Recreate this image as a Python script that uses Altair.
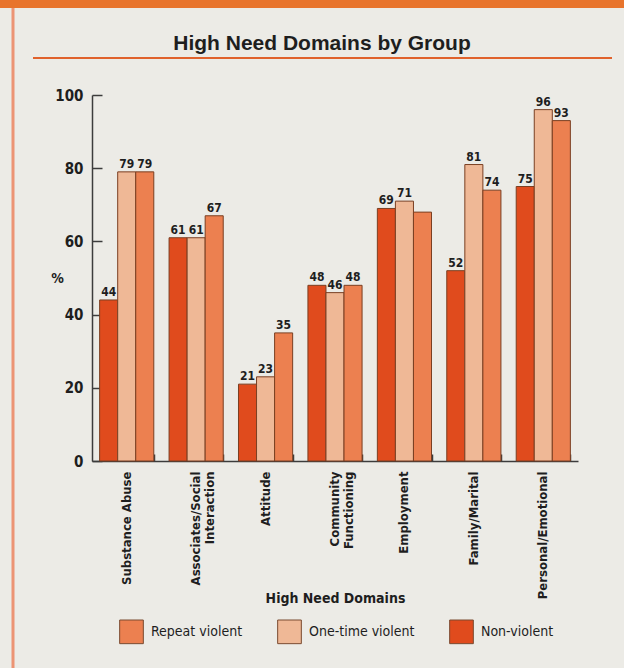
import altair as alt
import pandas as pd

chart_title = "High Need Domains by Group"
domains = ["Substance Abuse", "Associates/Social|Interaction", "Attitude",
           "Community|Functioning", "Employment", "Family/Marital", "Personal/Emotional"]
groups = ["Non-violent", "One-time violent", "Repeat violent"]
legend_order = ["Repeat violent", "One-time violent", "Non-violent"]
non_violent = [44, 61, 21, 48, 69, 52, 75]
one_time_violent = [79, 61, 23, 46, 71, 81, 96]
repeat_violent = [79, 67, 35, 48, 68, 74, 93]
repeat_label_shown = [True, True, True, True, False, True, True]
y_ticks = [0, 20, 40, 60, 80, 100]

colors = {"Repeat violent": "#ec8050", "One-time violent": "#efb896", "Non-violent": "#e04b1d"}

rows = []
for i, d in enumerate(domains):
    for g, vals in zip(groups, [non_violent, one_time_violent, repeat_violent]):
        v = vals[i]
        show = repeat_label_shown[i] if g == "Repeat violent" else True
        rows.append({"domain": d, "group": g, "value": v, "label": str(v) if show else ""})
df = pd.DataFrame(rows)

FONT = "Liberation Sans Narrow, DejaVu Sans Condensed, Arial Narrow, Liberation Sans, sans-serif"
INK = "#1e1e1e"

x_enc = alt.X("domain:N", sort=domains,
              scale=alt.Scale(paddingInner=0.22, paddingOuter=0.11),
              axis=alt.Axis(labelAngle=270, labelExpr="split(datum.label, '|')",
                            ticks=False, domainColor="#3c3c3c", domainWidth=1.5,
                            labelFont=FONT, labelFontSize=13, labelFontWeight="bold",
                            labelColor=INK, labelPadding=10, labelAlign="right",
                            labelBaseline="middle", labelLineHeight=14,
                            title="High Need Domains", titleFont=FONT, titleFontSize=14,
                            titleFontWeight="bold", titleColor=INK, titleY=137,
                            titleBaseline="middle"))
xo_enc = alt.XOffset("group:N", sort=groups, scale=alt.Scale(paddingInner=0, paddingOuter=0))
y_enc = alt.Y("value:Q", scale=alt.Scale(domain=[0, 100]),
              axis=alt.Axis(values=y_ticks, ticks=False, grid=False,
                            domainColor="#3c3c3c", domainWidth=1.5,
                            labelFont=FONT, labelFontSize=15, labelFontWeight="bold",
                            labelColor=INK, labelPadding=9,
                            title="%", titleAngle=0, titleX=-35, titleY=183,
                            titleFont=FONT, titleFontSize=14, titleFontWeight="bold",
                            titleColor=INK, titleAlign="center", titleBaseline="middle"))

color_enc = alt.Color("group:N",
                      scale=alt.Scale(domain=legend_order, range=[colors[g] for g in legend_order]),
                      legend=alt.Legend(orient="none", legendX=27, legendY=524,
                                        direction="horizontal", columns=3, title=None,
                                        symbolType="square", symbolSize=560,
                                        symbolStrokeColor="#7a4a30", symbolStrokeWidth=1,
                                        labelFont=FONT, labelFontSize=14, labelColor=INK,
                                        labelOffset=7, columnPadding=32, labelLimit=200))

base = alt.Chart(df)

bars = base.mark_bar(stroke="#7a3f22", strokeWidth=1).encode(
    x=x_enc, xOffset=xo_enc, y=y_enc, color=color_enc)

labels = base.mark_text(dy=-8, font=FONT, fontSize=12, fontWeight="bold", color=INK).encode(
    x=alt.X("domain:N", sort=domains, axis=None),
    xOffset=alt.XOffset("group:N", sort=groups),
    y=alt.Y("value:Q", axis=None), text="label:N")

# inward tick marks on both axes (axis decoration)
tick_layer = base.mark_bar(opacity=0).encode(
    x=alt.X("domain:N", sort=domains,
            axis=alt.Axis(orient="bottom", offset=-7, tickSize=7, tickBand="extent",
                          labels=False, domain=False, title=None, tickColor="#3c3c3c",
                          tickWidth=1.5)),
    xOffset=alt.XOffset("group:N", sort=groups),
    y=alt.Y("value:Q",
            axis=alt.Axis(orient="left", offset=-10, tickSize=10, values=y_ticks,
                          labels=False, domain=False, title=None, grid=False,
                          tickColor="#3c3c3c", tickWidth=1.5)))

deco = pd.DataFrame({"k": [0]})
top_strip = alt.Chart(deco).mark_rule(color="#e8742c", strokeWidth=8).encode(
    x=alt.value(-92), x2=alt.value(532), y=alt.value(-91), y2=alt.value(-91))
title_rule = alt.Chart(deco).mark_rule(color="#e0622c", strokeWidth=2).encode(
    x=alt.value(-59), x2=alt.value(520), y=alt.value(-37), y2=alt.value(-37))
left_border = alt.Chart(deco).mark_rule(color="#ec9474", strokeWidth=3).encode(
    x=alt.value(-79), x2=alt.value(-79), y=alt.value(-87), y2=alt.value(573))
title_text = alt.Chart(deco).mark_text(
    font="Liberation Sans", fontSize=21, fontWeight="bold", color=INK,
    align="center", baseline="alphabetic").encode(
    x=alt.value(230), y=alt.value(-45), text=alt.value(chart_title))

chart = alt.layer(top_strip, title_rule, left_border, title_text, bars, labels, tick_layer).resolve_axis(
    x="independent", y="independent"
).properties(
    width=486, height=366,
    padding={"left": 92, "top": 95, "right": 46, "bottom": 207},
    autosize=alt.AutoSizeParams(type="none"),
    background="#ecebe6"
).configure_view(stroke=None)

chart.save("out.html", embed_options={"renderer": "svg", "actions": False})
